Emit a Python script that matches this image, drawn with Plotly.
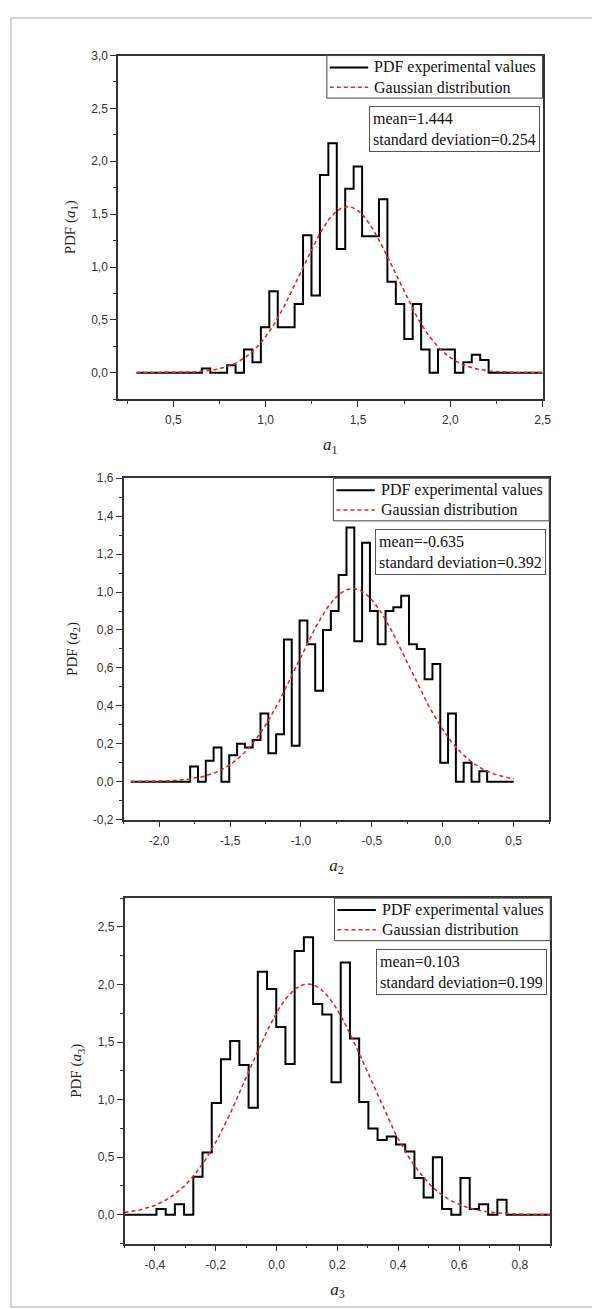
import numpy as np
import plotly.graph_objects as go

W, H = 600, 1309

# ---------------- data ----------------
# histogram bins (first edge, bin width, PDF heights)
a1_edge0, a1_bw = 0.654, 0.0457
a1_pdf = [0.04, 0.0, 0.0, 0.07, 0.0, 0.22, 0.10, 0.43, 0.77, 0.43, 0.43, 0.65, 1.30, 0.73,
          1.87, 2.17, 1.17, 1.74, 1.95, 1.29, 1.29, 1.64, 0.86, 0.65, 0.32, 0.65, 0.22, 0.0,
          0.22, 0.22, 0.0, 0.10, 0.17, 0.12]
a2_edge0, a2_bw = -1.781, 0.0551
a2_pdf = [0.08, 0.0, 0.11, 0.18, 0.0, 0.14, 0.20, 0.18, 0.22, 0.36, 0.15, 0.25, 0.75, 0.19,
          0.85, 0.725, 0.48, 0.80, 0.90, 1.09, 1.34, 0.74, 1.26, 0.90, 0.725, 0.90, 0.92, 0.98,
          0.725, 0.70, 0.54, 0.62, 0.10, 0.36, 0.0, 0.10, 0.0, 0.055]
a3_edge0, a3_bw = -0.395, 0.0303
a3_pdf = [0.05, 0.0, 0.09, 0.0, 0.33, 0.54, 0.97, 1.35, 1.51, 1.30, 0.93, 2.11, 1.96, 1.63,
          1.31, 2.29, 2.41, 1.83, 1.74, 1.15, 2.19, 1.53, 0.98, 0.75, 0.65, 0.68, 0.61, 0.55,
          0.32, 0.15, 0.50, 0.05, 0.0, 0.32, 0.05, 0.09, 0.0, 0.13]

means = [1.444, -0.635, 0.103]
stds = [0.254, 0.392, 0.199]
data_spans = [(0.3, 2.5), (-2.2, 0.5), (-0.5, 0.9)]

x_ranges = [(0.2, 2.5), (-2.25, 0.75), (-0.5, 0.9)]
y_ranges = [(-0.25, 3.0), (-0.2, 1.6), (-0.25, 2.75)]

x_tickvals = [[0.5, 1.0, 1.5, 2.0, 2.5],
              [-2.0, -1.5, -1.0, -0.5, 0.0, 0.5],
              [-0.4, -0.2, 0.0, 0.2, 0.4, 0.6, 0.8]]
x_ticktext = [["0,5", "1,0", "1,5", "2,0", "2,5"],
              ["-2,0", "-1,5", "-1,0", "-0,5", "0,0", "0,5"],
              ["-0,4", "-0,2", "0,0", "0,2", "0,4", "0,6", "0,8"]]
y_tickvals = [[0.0, 0.5, 1.0, 1.5, 2.0, 2.5, 3.0],
              [-0.2, 0.0, 0.2, 0.4, 0.6, 0.8, 1.0, 1.2, 1.4, 1.6],
              [0.0, 0.5, 1.0, 1.5, 2.0, 2.5]]
y_ticktext = [["0,0", "0,5", "1,0", "1,5", "2,0", "2,5", "3,0"],
              ["-0,2", "0,0", "0,2", "0,4", "0,6", "0,8", "1,0", "1,2", "1,4", "1,6"],
              ["0,0", "0,5", "1,0", "1,5", "2,0", "2,5"]]
x_minor = [0.25, 0.25, 0.1]
y_minor = [0.25, 0.1, 0.25]

series_names = ["PDF experimental values", "Gaussian distribution"]
var_sub = ["1", "2", "3"]

# ---------------- layout geometry (pixels) ----------------
boxes = [(111.7, 41.0, 542.7, 388.3),
         (117.4, 468.3, 549.4, 813.3),
         (118.3, 892.7, 550.5, 1241.8)]

hist = [(a1_edge0, a1_bw, a1_pdf), (a2_edge0, a2_bw, a2_pdf), (a3_edge0, a3_bw, a3_pdf)]

SERIF = "Liberation Serif"
SANS = "Liberation Sans"
AX = "#333333"
RED = "#dc2a30"
RED_DASH = "4px,3px"


def px(x):
    return x / W


def py(y):
    return 1 - y / H


fig = go.Figure()
layout = dict(width=W, height=H, margin=dict(l=0, r=0, t=0, b=0),
              paper_bgcolor="white", plot_bgcolor="white", showlegend=False)
annotations = []
shapes = [dict(type="rect", xref="paper", yref="paper",
               x0=px(3), x1=px(597), y0=py(1306), y1=py(3),
               line=dict(color="#c8c8c8", width=1.5))]

for i in range(3):
    e0, bw, h = hist[i]
    edges = e0 + bw * np.arange(len(h) + 1)
    s0, s1 = data_spans[i]
    xs = [s0] + list(edges) + [s1]
    ys = [0.0] + list(h) + [0.0, 0.0]
    xa = "x" if i == 0 else f"x{i+1}"
    ya = "y" if i == 0 else f"y{i+1}"
    fig.add_trace(go.Scatter(x=xs, y=ys, mode="lines", line=dict(color="black", width=2, shape="hv"),
                             name=series_names[0], xaxis=xa, yaxis=ya))
    xg = np.linspace(s0, s1, 400)
    yg = np.exp(-0.5 * ((xg - means[i]) / stds[i]) ** 2) / (stds[i] * np.sqrt(2 * np.pi))
    fig.add_trace(go.Scatter(x=xg, y=yg, mode="lines",
                             line=dict(color=RED, width=1.6, dash=RED_DASH),
                             name=series_names[1], xaxis=xa, yaxis=ya))

    l, t, r, b = boxes[i]
    xkey = "xaxis" if i == 0 else f"xaxis{i+1}"
    ykey = "yaxis" if i == 0 else f"yaxis{i+1}"
    layout[xkey] = dict(domain=[px(l), px(r)], anchor=ya, range=list(x_ranges[i]),
                        showgrid=False, zeroline=False, showline=True, mirror=True,
                        linecolor=AX, linewidth=1.5, ticks="outside", ticklen=6, tickwidth=1.2,
                        tickcolor=AX, tickmode="array", tickvals=x_tickvals[i], ticktext=x_ticktext[i],
                        ticklabelstandoff=3,
                        minor=dict(ticks="outside", ticklen=3, tickwidth=1.2, tickcolor=AX,
                                   tickmode="linear", tick0=0, dtick=x_minor[i]),
                        tickfont=dict(family=SANS, size=12, color="#333"),
                        title=dict(text=f"<i>a</i><sub>{var_sub[i]}</sub>",
                                   font=dict(family=SERIF, size=17, color="#222"), standoff=12))
    layout[ykey] = dict(domain=[py(b), py(t)], anchor=xa, range=list(y_ranges[i]),
                        showgrid=False, zeroline=False, showline=True, mirror=True,
                        linecolor=AX, linewidth=1.5, ticks="outside", ticklen=6, tickwidth=1.2,
                        tickcolor=AX, tickmode="array", tickvals=y_tickvals[i], ticktext=y_ticktext[i],
                        minor=dict(ticks="outside", ticklen=3, tickwidth=1.2, tickcolor=AX,
                                   tickmode="linear", tick0=0, dtick=y_minor[i]),
                        tickfont=dict(family=SANS, size=12, color="#333"),
                        title=dict(text=f"PDF (<i>a</i><sub>{var_sub[i]}</sub>)",
                                   font=dict(family=SERIF, size=15, color="#222"), standoff=12))

    # legend box (drawn manually to match the original compact layout)
    L = r - 219
    shapes.append(dict(type="rect", xref="paper", yref="paper", x0=px(L), x1=px(r),
                       y0=py(t + 43), y1=py(t), fillcolor="white",
                       line=dict(color="#444", width=1), layer="above"))
    shapes.append(dict(type="line", xref="paper", yref="paper", x0=px(L + 3), x1=px(L + 42),
                       y0=py(t + 12), y1=py(t + 12), line=dict(color="black", width=2), layer="above"))
    shapes.append(dict(type="line", xref="paper", yref="paper", x0=px(L + 3), x1=px(L + 42),
                       y0=py(t + 32), y1=py(t + 32), line=dict(color=RED, width=1.6, dash=RED_DASH),
                       layer="above"))
    for k, yy in enumerate((t + 12, t + 32)):
        annotations.append(dict(xref="paper", yref="paper", x=px(L + 46), y=py(yy),
                                xanchor="left", yanchor="middle", showarrow=False,
                                text=series_names[k],
                                font=dict(family=SERIF, size=16, color="#111")))

    annotations.append(dict(xref="paper", yref="paper", x=px(r - 3), y=py(t + 51),
                            xanchor="right", yanchor="top", showarrow=False, align="left",
                            text=f"mean={means[i]}<br>standard deviation={stds[i]}",
                            font=dict(family=SERIF, size=16, color="#111"),
                            bgcolor="white", bordercolor="#555", borderwidth=1, borderpad=3))

layout["annotations"] = annotations
layout["shapes"] = shapes
fig.update_layout(**layout)
fig.write_html("out.html")
